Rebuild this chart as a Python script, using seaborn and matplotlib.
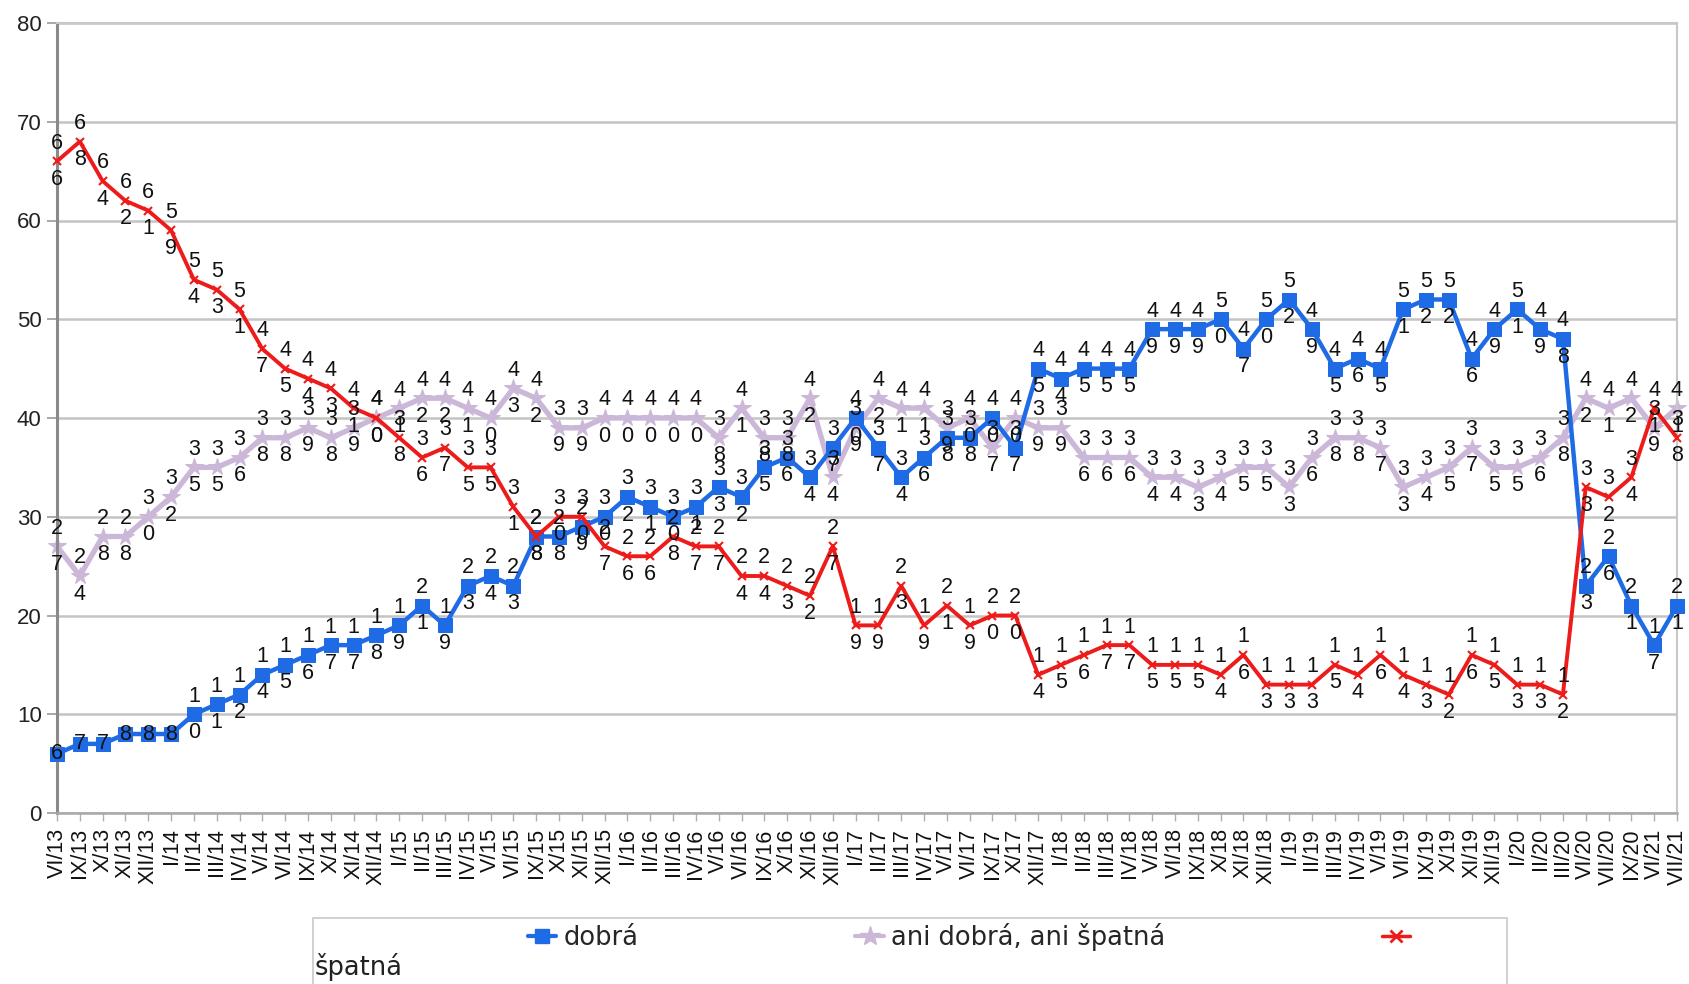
import matplotlib
matplotlib.use("Agg")
import matplotlib.pyplot as plt
from matplotlib.lines import Line2D
from matplotlib.patches import Rectangle
import pandas as pd
import seaborn as sns

# survey months (no July/August rounds, gaps in 2017 and 2020-21)
months = [
    "VI/13", "IX/13", "X/13", "XI/13", "XII/13",
    "I/14", "II/14", "III/14", "IV/14", "V/14", "VI/14", "IX/14", "X/14", "XI/14", "XII/14",
    "I/15", "II/15", "III/15", "IV/15", "V/15", "VI/15", "IX/15", "X/15", "XI/15", "XII/15",
    "I/16", "II/16", "III/16", "IV/16", "V/16", "VI/16", "IX/16", "X/16", "XI/16", "XII/16",
    "I/17", "II/17", "III/17", "IV/17", "V/17", "VI/17", "IX/17", "X/17", "XII/17",
    "I/18", "II/18", "III/18", "IV/18", "V/18", "VI/18", "IX/18", "X/18", "XI/18", "XII/18",
    "I/19", "II/19", "III/19", "IV/19", "V/19", "VI/19", "IX/19", "X/19", "XI/19", "XII/19",
    "I/20", "II/20", "III/20", "VI/20", "VII/20", "IX/20",
    "VI/21", "VII/21",
]

dobra = [6, 7, 7, 8, 8, 8, 10, 11, 12, 14,
         15, 16, 17, 17, 18, 19, 21, 19, 23, 24,
         23, 28, 28, 29, 30, 32, 31, 30, 31, 33,
         32, 35, 36, 34, 37, 40, 37, 34, 36, 38,
         38, 40, 37, 45, 44, 45, 45, 45, 49, 49,
         49, 50, 47, 50, 52, 49, 45, 46, 45, 51,
         52, 52, 46, 49, 51, 49, 48, 23, 26, 21,
         17, 21]

ani = [27, 24, 28, 28, 30, 32, 35, 35, 36, 38,
       38, 39, 38, 39, 40, 41, 42, 42, 41, 40,
       43, 42, 39, 39, 40, 40, 40, 40, 40, 38,
       41, 38, 38, 42, 34, 39, 42, 41, 41, 39,
       40, 37, 40, 39, 39, 36, 36, 36, 34, 34,
       33, 34, 35, 35, 33, 36, 38, 38, 37, 33,
       34, 35, 37, 35, 35, 36, 38, 42, 41, 42,
       39, 41]

spatna = [66, 68, 64, 62, 61, 59, 54, 53, 51, 47,
          45, 44, 43, 41, 40, 38, 36, 37, 35, 35,
          31, 28, 30, 30, 27, 26, 26, 28, 27, 27,
          24, 24, 23, 22, 27, 19, 19, 23, 19, 21,
          19, 20, 20, 14, 15, 16, 17, 17, 15, 15,
          15, 14, 16, 13, 13, 13, 15, 14, 16, 14,
          13, 12, 16, 15, 13, 13, 12, 33, 32, 34,
          41, 38]

BLUE = "#1f6be6"
LILAC = "#cbb7d8"
RED = "#ee1b1b"

sns.set_style("white")
plt.rcParams["font.family"] = ["Liberation Sans", "DejaVu Sans"]

fig = plt.figure(figsize=(16.9, 9.84), dpi=100)
ax = fig.add_axes([57 / 1690, 171 / 984, 1620 / 1690, 790 / 984])

x = list(range(len(months)))
df = pd.DataFrame({"x": x, "dobra": dobra, "ani": ani, "spatna": spatna})

# lilac first, then blue, red on top (as in the original)
sns.lineplot(data=df, x="x", y="ani", ax=ax, color=LILAC, lw=3.8, marker="*",
             markersize=13, markeredgecolor=LILAC, estimator=None, sort=False,
             zorder=2, clip_on=False)
sns.lineplot(data=df, x="x", y="dobra", ax=ax, color=BLUE, lw=3.2, marker="s",
             markersize=10, markeredgecolor=BLUE, estimator=None, sort=False,
             zorder=3, clip_on=False)
sns.lineplot(data=df, x="x", y="spatna", ax=ax, color=RED, lw=2.8, marker="x",
             markersize=6, markeredgewidth=1.5, markeredgecolor=RED,
             estimator=None, sort=False, zorder=4, clip_on=False)

# data labels: two-digit numbers are stacked, one digit above the point, one below
for series in (ani, dobra, spatna):
    for xi, v in zip(x, series):
        txt = f"{v // 10}\n{v % 10}" if v >= 10 else str(v)
        ax.text(xi, v, txt, ha="center", va="center", fontsize=15.5,
                linespacing=1.95, color="#111111", zorder=6, clip_on=False)

ax.set_xlim(0, len(months) - 1)
ax.set_ylim(0, 80)
ax.set_yticks(range(0, 81, 10))
ax.set_xticks(x)
ax.set_xticklabels(months, rotation=90, fontsize=15.5, color="#111111")
ax.tick_params(axis="y", labelsize=16, labelcolor="#222222", length=7,
               color="#9a9a9a", width=1.2, pad=4, left=True)
ax.tick_params(axis="x", length=6, color="#b0b0b0", width=1, pad=5, bottom=True)
ax.set_xlabel("")
ax.set_ylabel("")

ax.yaxis.grid(True, color="#c4c4c4", lw=1.8)
ax.xaxis.grid(False)
ax.set_axisbelow(True)
for side in ("top", "right"):
    ax.spines[side].set_color("#c8c8c8")
    ax.spines[side].set_linewidth(1.5)
ax.spines["left"].set_color("#8a8a8a")
ax.spines["left"].set_linewidth(2.2)
ax.spines["bottom"].set_color("#a8a8a8")
ax.spines["bottom"].set_linewidth(1.8)

# legend box at the bottom, third label wraps onto a second row
frame = Rectangle((313 / 1690, -0.02), (1507 - 313) / 1690, (984 - 918) / 984 + 0.02,
                  transform=fig.transFigure, facecolor="white", edgecolor="#c8c8c8",
                  lw=1.2, zorder=1)
fig.patches.append(frame)

handles = [
    Line2D([], [], color=BLUE, lw=3, marker="s", markersize=10),
    Line2D([], [], color=LILAC, lw=3, marker="*", markersize=15),
    Line2D([], [], color=RED, lw=2.5, marker="x", markersize=9, markeredgewidth=2),
]
fig.legend(handles, ["dobrá", "ani dobrá, ani špatná", ""], loc="center left",
           bbox_to_anchor=(528 / 1690, 1 - 937 / 984, 890 / 1690, 0), mode="expand",
           ncol=3, frameon=False, handlelength=1.1, handletextpad=0.3,
           borderpad=0, borderaxespad=0,
           prop={"family": "DejaVu Sans", "size": 18.5})
fig.text(315 / 1690, 1 - 967 / 984, "špatná", ha="left", va="center",
         fontsize=18.5, family="DejaVu Sans", color="#222222")

fig.savefig("out.png", dpi=100, facecolor="white")
